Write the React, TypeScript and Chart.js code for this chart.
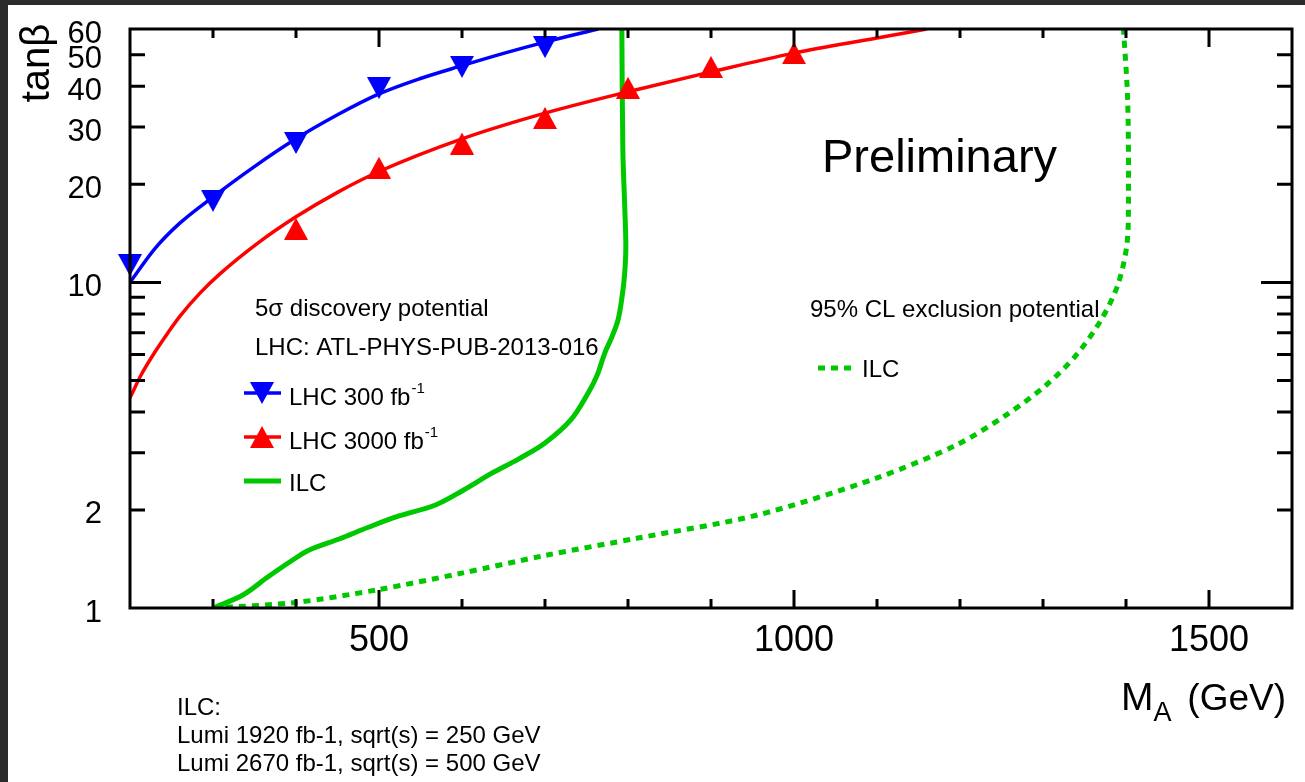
import React, { useEffect, useRef } from "react";
import { Chart, registerables } from "chart.js";

Chart.register(...registerables);

const W = 1305;
const H = 782;

// LHC 300 fb-1 (blue) fitted curve and markers
const blueCurveM = [200, 230, 260, 300, 349, 399, 450, 500, 549, 600, 650, 700, 764];
const blueCurveTanb = [10.0, 12.7, 15.2, 18.3, 22.6, 27.5, 32.7, 37.9, 42.2, 46.3, 50.5, 54.7, 60];
const blueMarkM = [200, 300, 400, 500, 600, 700];
const blueMarkTanb = [11.3, 17.8, 26.8, 39.5, 45.9, 52.8];

// LHC 3000 fb-1 (red) fitted curve and markers
const redCurveM = [200, 214, 230, 246, 260, 284, 308, 354, 400, 450, 500, 600, 700, 800, 900, 1000, 1100, 1160];
const redCurveTanb = [4.42, 5.23, 6.11, 7.02, 7.86, 9.25, 10.6, 13.2, 15.9, 18.9, 21.9, 27.6, 33.1, 38.5, 44.3, 50.6, 56.3, 60];
const redMarkM = [400, 500, 600, 700, 800, 900, 1000];
const redMarkTanb = [14.6, 22.5, 26.7, 32.0, 39.6, 45.9, 50.6];

// ILC 5 sigma discovery (solid green)
const ilcDiscM = [300, 336, 366, 396, 416, 452, 488, 524, 568, 602, 636, 668, 700, 731, 752, 763, 772, 781, 788, 793, 796, 797.4, 796.2, 793.8, 792.6];
const ilcDiscTanb = [1.0, 1.096, 1.245, 1.404, 1.507, 1.629, 1.773, 1.917, 2.072, 2.304, 2.596, 2.867, 3.212, 3.78, 4.577, 5.198, 6.068, 6.84, 7.67, 9.09, 10.67, 12.84, 16.7, 25.5, 60];

// ILC 95% CL exclusion (dotted green)
const ilcExclM = [300, 400, 500, 600, 700, 812, 956, 1100, 1196, 1256, 1304, 1340, 1370, 1390, 1401, 1403, 1402, 1397];
const ilcExclTanb = [1.0, 1.04, 1.14, 1.28, 1.45, 1.64, 1.93, 2.51, 3.17, 3.92, 4.84, 5.98, 7.67, 9.8, 13.0, 17.9, 36.3, 60];

// Axes
const xMin = 200;
const xMax = 1600;
const yMin = 1;
const yMax = 60;
const xTickLabels = [500, 1000, 1500];
const xMinorTicks = [300, 400, 600, 700, 800, 900, 1100, 1200, 1300, 1400];
const yTickLabels = [1, 2, 10, 20, 30, 40, 50, 60];
const yMajorTicks = [10];
const yMinorTicks = [2, 3, 4, 5, 6, 7, 8, 9, 20, 30, 40, 50];

const BLUE = "#0000ff";
const RED = "#ff0000";
const GREEN = "#00c800";
const FONT = "'Liberation Sans', Arial, Helvetica, sans-serif";
const MW = 24;
const MH = 22;

const toXY = (xs: number[], ys: number[]) => xs.map((x, i) => ({ x, y: ys[i] }));

function triPath(ctx: CanvasRenderingContext2D, cx: number, cy: number, down: boolean) {
  const s = down ? -1 : 1;
  ctx.beginPath();
  ctx.moveTo(cx, cy - (s * MH) / 2);
  ctx.lineTo(cx + MW / 2, cy + (s * MH) / 2);
  ctx.lineTo(cx - MW / 2, cy + (s * MH) / 2);
  ctx.closePath();
}

function makeMarker(down: boolean, color: string): HTMLCanvasElement {
  const c = document.createElement("canvas");
  c.width = MW;
  c.height = MH;
  const g = c.getContext("2d")!;
  g.fillStyle = color;
  triPath(g, MW / 2, MH / 2, down);
  g.fill();
  return c;
}

function text(ctx: CanvasRenderingContext2D, s: string, x: number, y: number, size: number, align: CanvasTextAlign = "left") {
  ctx.font = `${size}px ${FONT}`;
  ctx.textAlign = align;
  ctx.textBaseline = "alphabetic";
  ctx.fillStyle = "#000";
  ctx.fillText(s, x, y);
  return ctx.measureText(s).width;
}

const decor = {
  id: "decor",
  beforeDraw(chart: any) {
    const ctx: CanvasRenderingContext2D = chart.ctx;
    ctx.save();
    ctx.fillStyle = "#2b2b2b";
    ctx.fillRect(0, 0, W, H);
    ctx.fillStyle = "#ffffff";
    ctx.fillRect(8, 5, W - 8, H - 5);
    ctx.restore();
  },
  afterDatasetsDraw(chart: any) {
    const ctx: CanvasRenderingContext2D = chart.ctx;
    const { left, right, top, bottom } = chart.chartArea;
    const xs = chart.scales.x;
    const ys = chart.scales.y;
    ctx.save();
    ctx.strokeStyle = "#000";
    ctx.lineWidth = 3;
    ctx.lineCap = "butt";
    ctx.beginPath();
    const yTick = (v: number, len: number) => {
      const py = ys.getPixelForValue(v);
      ctx.moveTo(left, py);
      ctx.lineTo(left + len, py);
      ctx.moveTo(right, py);
      ctx.lineTo(right - len, py);
    };
    yMajorTicks.forEach((v) => yTick(v, 31));
    yMinorTicks.forEach((v) => yTick(v, 15));
    const xTick = (v: number, len: number) => {
      const px = xs.getPixelForValue(v);
      ctx.moveTo(px, bottom);
      ctx.lineTo(px, bottom - len);
      ctx.moveTo(px, top);
      ctx.lineTo(px, top + len);
    };
    xTickLabels.forEach((v) => xTick(v, 18));
    xMinorTicks.forEach((v) => xTick(v, 9));
    ctx.stroke();
    ctx.strokeRect(left, top, right - left, bottom - top);

    // tick labels
    yTickLabels.forEach((v) => {
      const py = ys.getPixelForValue(v);
      text(ctx, String(v), 102, py + 13.5, 31, "right");
    });
    xTickLabels.forEach((v) => {
      const px = xs.getPixelForValue(v);
      text(ctx, String(v), px, 651, 36, "center");
    });

    // axis titles
    ctx.save();
    ctx.translate(49, 63);
    ctx.rotate(-Math.PI / 2);
    text(ctx, "tanβ", 0, 0, 40, "center");
    ctx.restore();

    const wM = text(ctx, "M", 1121, 710, 39);
    text(ctx, "A", 1121 + wM, 721, 27);
    text(ctx, "(GeV)", 1286, 710, 37, "right");

    // Preliminary
    text(ctx, "Preliminary", 822, 172, 47);

    // Left legend
    text(ctx, "5σ discovery potential", 255, 316, 24);
    text(ctx, "LHC: ATL-PHYS-PUB-2013-016", 255, 355, 24);

    ctx.lineCap = "butt";
    ctx.lineWidth = 3.5;
    ctx.strokeStyle = BLUE;
    ctx.beginPath();
    ctx.moveTo(244, 393);
    ctx.lineTo(281, 393);
    ctx.stroke();
    ctx.fillStyle = BLUE;
    triPath(ctx, 262, 393, true);
    ctx.fill();
    let w = text(ctx, "LHC 300 fb", 289, 405, 24);
    text(ctx, "-1", 289 + w + 1, 393, 15);

    ctx.strokeStyle = RED;
    ctx.beginPath();
    ctx.moveTo(244, 437);
    ctx.lineTo(281, 437);
    ctx.stroke();
    ctx.fillStyle = RED;
    triPath(ctx, 262, 437, false);
    ctx.fill();
    w = text(ctx, "LHC 3000 fb", 289, 449, 24);
    text(ctx, "-1", 289 + w + 1, 437, 15);

    ctx.strokeStyle = GREEN;
    ctx.lineWidth = 5;
    ctx.beginPath();
    ctx.moveTo(244, 481);
    ctx.lineTo(281, 481);
    ctx.stroke();
    text(ctx, "ILC", 289, 491, 24);

    // Right legend
    text(ctx, "95% CL exclusion potential", 810, 317, 24);
    ctx.setLineDash([7, 6]);
    ctx.beginPath();
    ctx.moveTo(818, 368);
    ctx.lineTo(856, 368);
    ctx.stroke();
    ctx.setLineDash([]);
    text(ctx, "ILC", 862, 377, 24);

    // Notes
    text(ctx, "ILC:", 177, 715, 24);
    text(ctx, "Lumi 1920 fb-1, sqrt(s) = 250 GeV", 177, 743, 24);
    text(ctx, "Lumi 2670 fb-1, sqrt(s) = 500 GeV", 177, 771, 24);

    ctx.restore();
  },
};

export default function App() {
  const ref = useRef<HTMLCanvasElement | null>(null);

  useEffect(() => {
    if (!ref.current) return;
    const blueMarker = makeMarker(true, BLUE);
    const redMarker = makeMarker(false, RED);
    const chart = new Chart(ref.current, {
      type: "scatter",
      data: {
        datasets: [
          {
            label: "LHC 300 fb-1 points",
            data: toXY(blueMarkM, blueMarkTanb),
            showLine: false,
            pointStyle: blueMarker,
            pointRadius: 12,
            borderColor: BLUE,
            backgroundColor: BLUE,
            clip: false,
          },
          {
            label: "LHC 3000 fb-1 points",
            data: toXY(redMarkM, redMarkTanb),
            showLine: false,
            pointStyle: redMarker,
            pointRadius: 12,
            borderColor: RED,
            backgroundColor: RED,
            clip: false,
          },
          {
            label: "ILC discovery",
            data: toXY(ilcDiscM, ilcDiscTanb),
            showLine: true,
            borderColor: GREEN,
            borderWidth: 5,
            pointRadius: 0,
            tension: 0.35,
          },
          {
            label: "ILC exclusion",
            data: toXY(ilcExclM, ilcExclTanb),
            showLine: true,
            borderColor: GREEN,
            borderWidth: 5,
            borderDash: [7, 6],
            borderCapStyle: "butt",
            pointRadius: 0,
            tension: 0.3,
          },
          {
            label: "LHC 300 fb-1",
            data: toXY(blueCurveM, blueCurveTanb),
            showLine: true,
            borderColor: BLUE,
            borderWidth: 3.5,
            pointRadius: 0,
            cubicInterpolationMode: "monotone",
          },
          {
            label: "LHC 3000 fb-1",
            data: toXY(redCurveM, redCurveTanb),
            showLine: true,
            borderColor: RED,
            borderWidth: 3.5,
            pointRadius: 0,
            cubicInterpolationMode: "monotone",
          },
        ] as any,
      },
      options: {
        animation: false,
        responsive: false,
        devicePixelRatio: 1,
        layout: { padding: { left: 130, top: 29, right: 8, bottom: 174 } },
        plugins: {
          legend: { display: false },
          tooltip: { enabled: false },
          title: { display: false },
        },
        scales: {
          x: { type: "linear", min: xMin, max: xMax, display: false },
          y: { type: "logarithmic", min: yMin, max: yMax, display: false },
        },
        events: [],
      },
      plugins: [decor],
    });
    return () => chart.destroy();
  }, []);

  return (
    <div style={{ position: "fixed", left: 0, top: 0, width: W, height: H }}>
      <canvas ref={ref} width={W} height={H} style={{ display: "block", width: W, height: H }} />
    </div>
  );
}
